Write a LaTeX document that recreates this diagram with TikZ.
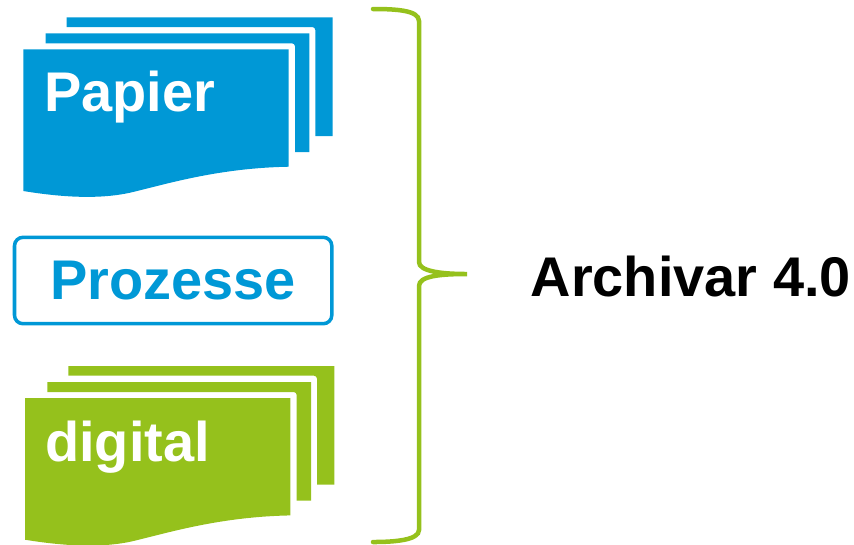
\documentclass[tikz,border=0pt]{standalone}
\usepackage{fontspec}
\setmainfont{Liberation Sans}
\definecolor{papierblue}{HTML}{0098D6}
\definecolor{digitalgreen}{HTML}{95C11C}
\tikzset{
	sheet/.style={fill=#1,draw=none},
	boldlabel/.style={font=\bfseries\fontsize{15.9}{18}\selectfont,inner sep=0pt,anchor=base west},
	sheetlabel/.style={boldlabel,text=white},
	prozessbox/.style={draw=papierblue,line width=0.035cm,rounded corners=0.085cm,fill=white},
}
\def\sheetstack(#1,#2)#3{
	\begin{scope}[shift={(#1,#2)}]
		\fill[sheet=#3] (66.7,17.3) -- (332.7,17.3) -- (332.7,136) -- (315.3,136) -- (315.3,30) arc (0:-90:3) -- (66.7,27) -- cycle;
		\fill[sheet=#3] (45.7,33.3) -- (309.3,33.3) -- (309.3,152) -- (295,152) -- (295,46.3) arc (0:-90:3) -- (45.7,43.3) -- cycle;
		\fill[sheet=#3] (23.3,49.3) -- (288.7,49.3) -- (288.7,166.7) .. controls (220,168) and (170,183) .. (133,192) .. controls (100,200) and (60,197) .. (23.3,191) -- cycle;
	\end{scope}
}

\begin{document}
\begin{tikzpicture}[x=0.01cm,y=-0.01cm]
	\useasboundingbox (0,0) rectangle (854,544);
	\def\xdigital{1.7}
	\def\ydigital{348.7}

	%paper stack
	\sheetstack(0,0){papierblue}
	\node[sheetlabel] (papier) at (43.5,111.7) {Papier};

	%digital stack
	\sheetstack(\xdigital,\ydigital){digitalgreen}
	\node[sheetlabel] (digital) at (44.5,461.7) {digital};

	\draw[prozessbox] (14.5,237.3) rectangle (331.8,323.7);
	\node[boldlabel,text=papierblue] (prozesse) at (49.5,299) {Prozesse};

	%brace
	\draw[digitalgreen,line width=0.045cm,line cap=round] (373,9) .. controls (395,9) and (419,10) .. (419,21) -- (419,262) .. controls (419,271) and (440,274) .. (467,274) .. controls (440,274) and (419,276) .. (419,286) -- (419,530) .. controls (419,540) and (395,542) .. (373,542);

	\node[boldlabel] (archivar) at (530,296) {Archivar 4.0};
\end{tikzpicture}
\end{document}
